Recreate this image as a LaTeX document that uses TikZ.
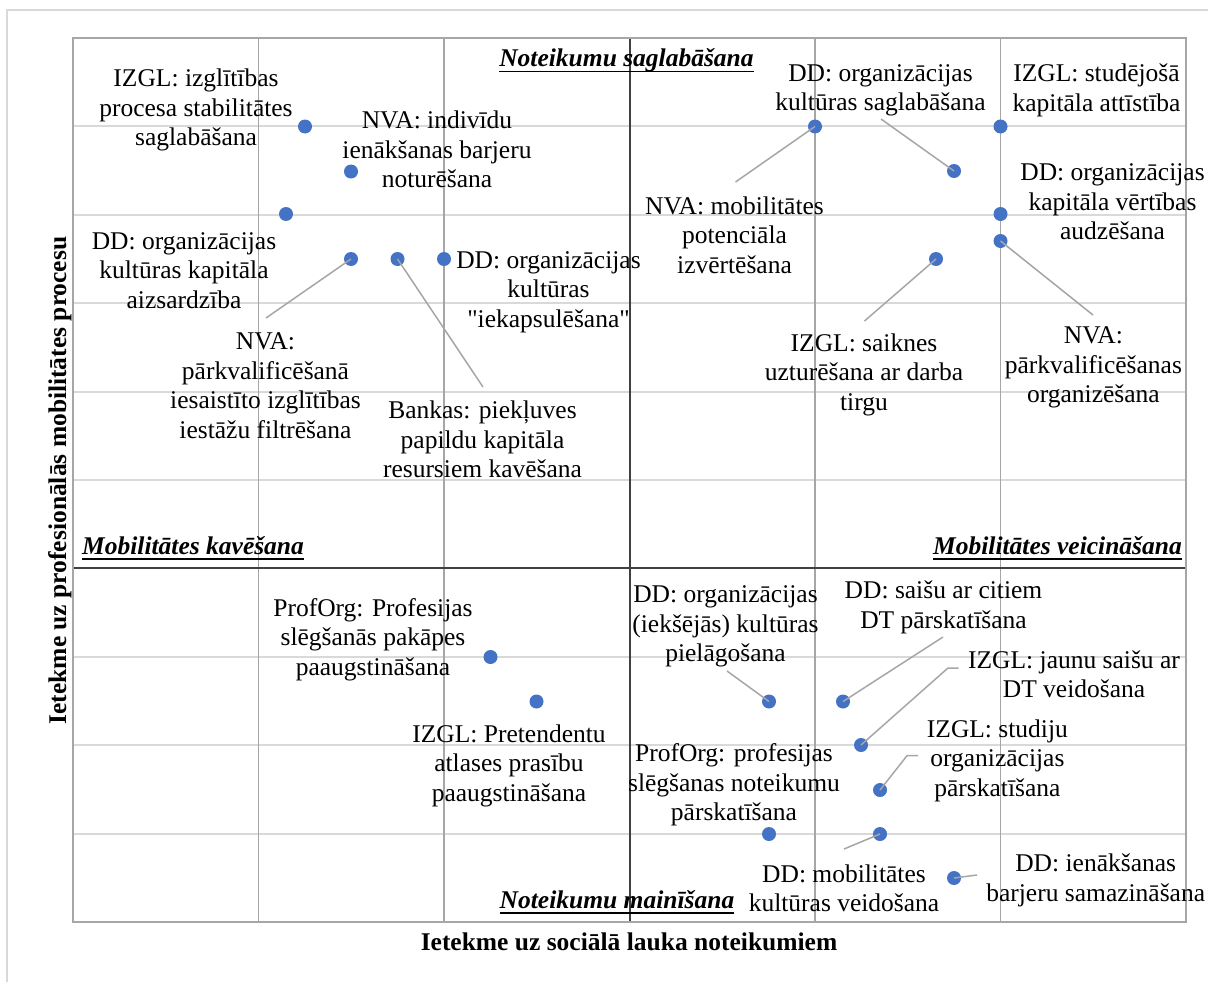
\documentclass[tikz,border=0pt]{standalone}
\usepackage{fontspec}
\setmainfont{Liberation Serif}
% the same face loaded without the TeX character mapping, for straight quotes
\font\plainserif="Liberation Serif" at 25.5pt
\newcommand{\sq}{{\plainserif\char34}}
\usetikzlibrary{calc}
\definecolor{dotblue}{HTML}{4472C4}
\definecolor{leadgray}{HTML}{A6A6A6}
\definecolor{gridlight}{HTML}{D9D9D9}
\definecolor{gridmid}{HTML}{A6A6A6}
\definecolor{axisdark}{HTML}{404040}
\begin{document}
\begin{tikzpicture}[x=1pt,y=-1pt,
  lbl/.style={align=center, inner sep=0pt, yshift=-3pt, font=\fontsize{25.5}{29.5}\selectfont},
  pt/.style={circle, fill=dotblue, inner sep=0pt, minimum size=14pt},
  leader/.style={draw=leadgray, line width=1.5pt},
  hgrid/.style={draw=gridlight, line width=2pt},
  vgrid/.style={draw=gridmid, line width=1.5pt},
  axisline/.style={draw=axisdark, line width=2pt},
  quadtitle/.style={inner sep=0pt, font=\fontsize{25.5}{29.5}\selectfont\bfseries\itshape},
  uline/.style={draw=black, line width=1.8pt},
  axtitle/.style={inner sep=0pt, anchor=base, font=\fontsize{25.5}{29.5}\selectfont\bfseries},
]
\useasboundingbox (0,0) rectangle (1208,982);

% chart area border (runs on past the page edges)
\draw[draw=gridlight, line width=2pt] (7,1000) -- (7,10) -- (1220,10);

% grid
\foreach \k in {1,2,3,4,5,7,8,9}
  \draw[hgrid] (73,{38+88.4*\k}) -- (1186,{38+88.4*\k});
\foreach \k in {1,2,4,5}
  \draw[vgrid] ({73+185.5*\k},38) -- ({73+185.5*\k},922);

% central axes and plot frame
\draw[axisline] (629.5,38) -- (629.5,922);
\draw[axisline] (73,568.4) -- (1186,568.4);
\draw[draw=gridmid, line width=2pt] (73,38) rectangle (1186,922);

% data points
\node[pt] (p1) at (305,126.5) {};
\node[pt] (p2) at (351,171.5) {};
\node[pt] (p3) at (286,214) {};
\node[pt] (p4) at (351,259) {};
\node[pt] (p5) at (397.5,259) {};
\node[pt] (p6) at (444,259) {};
\node[pt] (p7) at (815,126.5) {};
\node[pt] (p8) at (954,171) {};
\node[pt] (p9) at (1000.5,126.5) {};
\node[pt] (p10) at (1000.5,214) {};
\node[pt] (p11) at (1000.5,241) {};
\node[pt] (p12) at (936,259) {};
\node[pt] (p13) at (490.5,657) {};
\node[pt] (p14) at (536.5,701.5) {};
\node[pt] (p15) at (769,701.5) {};
\node[pt] (p16) at (843,701.5) {};
\node[pt] (p17) at (861,745) {};
\node[pt] (p18) at (880,790) {};
\node[pt] (p19) at (769,834) {};
\node[pt] (p20) at (880,834) {};
\node[pt] (p21) at (954,878) {};

% leader lines of the displaced labels
\coordinate (c4) at (266,318);
\coordinate (c5) at (483,387);
\coordinate (c7) at (735.5,182);
\coordinate (c8) at (881,119);
\coordinate (c11) at (1093,315);
\coordinate (c12) at (864.5,321);
\coordinate (c15) at (727,671);
\coordinate (c16) at (943,637);
\coordinate (c17) at (958.5,668);
\coordinate (k17) at (948,668);
\coordinate (c18) at (918,755.7);
\coordinate (k18) at (907,755.7);
\coordinate (c20) at (844,849);
\coordinate (c21) at (977,875);
\draw[leader] (c4) -- (p4.center);
\draw[leader] (c5) -- (p5.center);
\draw[leader] (c7) -- (p7.center);
\draw[leader] (c8) -- (p8.center);
\draw[leader] (c11) -- (p11.center);
\draw[leader] (c12) -- (p12.center);
\draw[leader] (c15) -- (p15.center);
\draw[leader] (c16) -- (p16.center);
\draw[leader] (c17) -- (k17) -- (p17.center);
\draw[leader] (c18) -- (k18) -- (p18.center);
\draw[leader] (c20) -- (p20.center);
\draw[leader] (c21) -- (p21.center);

% data labels
\node[lbl] (l1) at (196,107) {IZGL: izglītības\\procesa stabilitātes\\saglabāšana};
\node[lbl] (l2) at (437,146.5) {NVA: indivīdu\\ienākšanas barjeru\\noturēšana};
\node[lbl] (l3) at (184,267.5) {DD: organizācijas\\kultūras kapitāla\\aizsardzība};
\node[lbl] (l4) at (548.5,289) {DD: organizācijas\\kultūras\\\sq iekapsulēšana\sq};
\node[lbl] (l5) at (265.5,382.5) {NVA:\\pārkvalificēšanā\\iesaistīto izglītības\\iestāžu filtrēšana};
\node[lbl] (l6) at (482.5,436.5) {Bankas: piekļuves\\papildu kapitāla\\resursiem kavēšana};
\node[lbl] (l7) at (880.5,87.5) {DD: organizācijas\\kultūras saglabāšana};
\node[lbl] (l8) at (1096.5,87.5) {IZGL: studējošā\\kapitāla attīstība};
\node[lbl] (l9) at (1112.5,199) {DD: organizācijas\\kapitāla vērtības\\audzēšana};
\node[lbl] (l10) at (734.5,232) {NVA: mobilitātes\\potenciāla\\izvērtēšana};
\node[lbl] (l11) at (864,371.7) {IZGL: saiknes\\uzturēšana ar darba\\tirgu};
\node[lbl] (l12) at (1093.4,364.7) {NVA:\\pārkvalificēšanas\\organizēšana};
\node[lbl] (l13) at (373,636.3) {ProfOrg: Profesijas\\slēgšanās pakāpes\\paaugstināšana};
\node[lbl] (l14) at (509,762.7) {IZGL: Pretendentu\\atlases prasību\\paaugstināšana};
\node[lbl] (l15) at (725.5,623.7) {DD: organizācijas\\(iekšējās) kultūras\\pielāgošana};
\node[lbl] (l16) at (943.5,604.5) {DD: saišu ar citiem\\DT pārskatīšana};
\node[lbl] (l17) at (1074,671) {IZGL: jaunu saišu ar\\DT veidošana};
\node[lbl] (l18) at (997.4,757.8) {IZGL: studiju\\organizācijas\\pārskatīšana};
\node[lbl] (l19) at (734,782) {ProfOrg: profesijas\\slēgšanas noteikumu\\pārskatīšana};
\node[lbl] (l20) at (844,885.3) {DD: mobilitātes\\kultūras veidošana};
\node[lbl] (l21) at (1095.7,877.3) {DD: ienākšanas\\barjeru samazināšana};

% quadrant titles
\node[quadtitle, anchor=base] (q1) at (626.5,66.5) {Noteikumu saglabāšana};
\node[quadtitle, anchor=base west] (q2) at (82,554) {Mobilitātes kavēšana};
\node[quadtitle, anchor=base east] (q3) at (1182,554) {Mobilitātes veicināšana};
\node[quadtitle, anchor=base] (q4) at (617,908) {Noteikumu mainīšana};
\foreach \q in {q1,q2,q3,q4}
  \draw[uline] ([yshift=-5pt]\q.base west) -- ([yshift=-5pt]\q.base east);

% axis titles
\node[axtitle] (xtitle) at (629,950.5) {Ietekme uz sociālā lauka noteikumiem};
\node[axtitle, rotate=90] (ytitle) at (66,480.5) {Ietekme uz profesionālās mobilitātes procesu};
\end{tikzpicture}
\end{document}
